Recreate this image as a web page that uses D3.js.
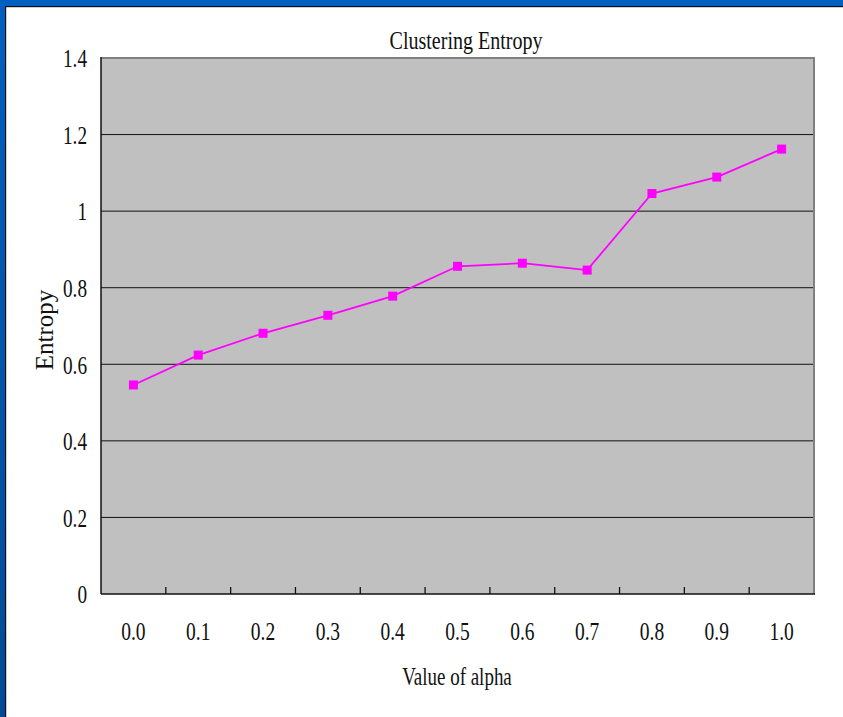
<!DOCTYPE html>
<html><head><meta charset="utf-8">
<script src="https://cdn.jsdelivr.net/npm/d3@7/dist/d3.min.js"></script>
<style>html,body{margin:0;padding:0;background:#fff;overflow:hidden}</style>
</head><body>
<script>
const categories = ["0.0","0.1","0.2","0.3","0.4","0.5","0.6","0.7","0.8","0.9","1.0"];
const entropy = [0.546, 0.624, 0.681, 0.728, 0.778, 0.856, 0.864, 0.846, 1.046, 1.089, 1.162];
const yTicks = [0, 0.2, 0.4, 0.6, 0.8, 1.0, 1.2, 1.4];
const yTickLabels = ["0","0.2","0.4","0.6","0.8","1","1.2","1.4"];
const titleText = "Clustering Entropy";
const xTitle = "Value of alpha";
const yTitle = "Entropy";

const W = 843, H = 717;
const L = 101, R = 814, T = 58, B = 594;
const FONT = "'Liberation Serif','Times New Roman',serif";
const SX = 0.74;

const svg = d3.select("body").append("svg").attr("width", W).attr("height", H);
const defs = svg.append("defs");
const g1 = defs.append("linearGradient").attr("id","lb").attr("x1",0).attr("y1",0).attr("x2",0).attr("y2",1);
g1.append("stop").attr("offset","0%").attr("stop-color","#0060c0");
g1.append("stop").attr("offset","100%").attr("stop-color","#004a98");

svg.append("rect").attr("width",W).attr("height",H).attr("fill","#fff");
// window frame
svg.append("rect").attr("x",0).attr("y",0).attr("width",W).attr("height",6).attr("fill","#0060c0");
svg.append("rect").attr("x",0).attr("y",0).attr("width",5).attr("height",H).attr("fill","url(#lb)");
svg.append("rect").attr("x",5).attr("y",6).attr("width",W-5).attr("height",1.2).attr("fill","#111");
svg.append("rect").attr("x",5).attr("y",6).attr("width",1.2).attr("height",H-6).attr("fill","#111");

const x = d3.scaleBand().domain(categories).range([L, R]).paddingInner(0).paddingOuter(0);
const y = d3.scaleLinear().domain([0, 1.4]).range([B, T]);

// plot area
svg.append("rect").attr("x",L).attr("y",T).attr("width",R-L).attr("height",B-T).attr("fill","#c0c0c0");
// gridlines
svg.append("g").selectAll("line").data(yTicks.filter(v => v > 0 && v < 1.4)).join("line")
  .attr("x1",L).attr("x2",R).attr("y1",d=>y(d)).attr("y2",d=>y(d))
  .attr("stroke","#111").attr("stroke-width",1);
// top & right gray border
svg.append("path").attr("d",`M${L},${T}H${R}V${B}`).attr("fill","none").attr("stroke","#808080").attr("stroke-width",2);

// y axis
const ya = svg.append("g").attr("transform",`translate(${L},0)`)
  .call(d3.axisLeft(y).tickValues(yTicks).tickFormat((d,i)=>yTickLabels[i]).tickSize(0).tickPadding(0));
ya.select(".domain").remove();
ya.selectAll("text").attr("x",0).attr("dy","0.34em").attr("text-anchor","end")
  .attr("transform",`translate(-14,0) scale(${SX},1)`)
  .style("font-family",FONT).style("font-size","26px").attr("fill","#111");

// x axis
const xa = svg.append("g").attr("transform",`translate(0,${B})`)
  .call(d3.axisBottom(x).tickSize(0).tickPadding(0));
xa.select(".domain").remove();
xa.selectAll("text").attr("y",0).attr("dy",0)
  .attr("transform",`translate(0,46) scale(${SX+0.04},1)`)
  .style("font-family",FONT).style("font-size","25px").attr("fill","#111");
// band boundary ticks (inward)
svg.append("g").selectAll("line").data(categories.slice(1)).join("line")
  .attr("x1",d=>x(d)).attr("x2",d=>x(d)).attr("y1",B).attr("y2",B-7)
  .attr("stroke","#111").attr("stroke-width",1.3);

// axis lines
svg.append("line").attr("x1",L).attr("x2",L).attr("y1",T-1).attr("y2",B).attr("stroke","#111").attr("stroke-width",1.5);
svg.append("line").attr("x1",L).attr("x2",R+1).attr("y1",B).attr("y2",B).attr("stroke","#111").attr("stroke-width",1.5);

// series
const cx = d => x(d) + x.bandwidth()/2;
const line = d3.line().x((d,i)=>cx(categories[i])).y(d=>y(d));
svg.append("path").datum(entropy).attr("d",line).attr("fill","none").attr("stroke","#ff00ff").attr("stroke-width",1.8);
svg.append("g").selectAll("rect").data(entropy).join("rect")
  .attr("x",(d,i)=>cx(categories[i])-4.5).attr("y",d=>y(d)-4.5)
  .attr("width",9).attr("height",9).attr("fill","#ff00ff");

// titles
function ctext(txt, px, py, size, sx) {
  svg.append("text").text(txt).attr("text-anchor","middle")
    .attr("transform",`translate(${px},${py}) scale(${sx},1)`)
    .style("font-family",FONT).style("font-size",size+"px").attr("fill","#111");
}
ctext(titleText, 466, 49, 26, 0.77);
ctext(xTitle, 457, 685, 26, 0.73);
svg.append("text").text(yTitle).attr("text-anchor","middle")
  .attr("transform","translate(53,330) rotate(-90)")
  .style("font-family",FONT).style("font-size","25px").attr("fill","#111");
</script>
</body></html>
